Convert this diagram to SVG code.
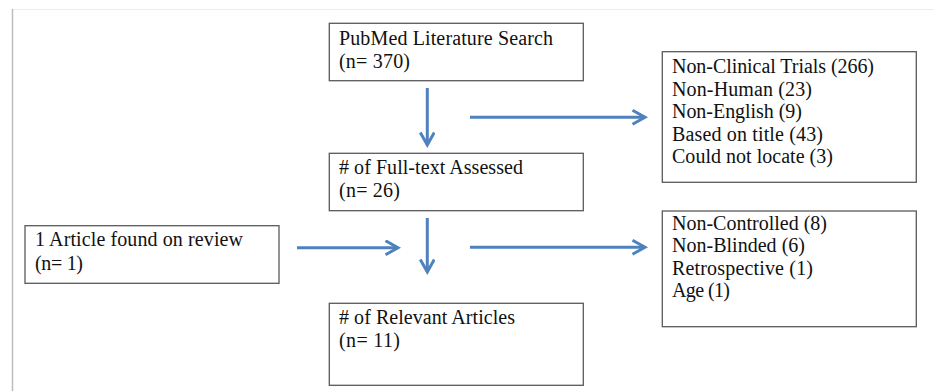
<svg xmlns="http://www.w3.org/2000/svg" width="934" height="391" viewBox="0 0 934 391">
<style>
.box{fill:#fff;stroke:#5a5a5a;stroke-width:1.3}
.t{font-family:"Liberation Serif","Times New Roman",serif;font-size:20px;fill:#111}
.arr{fill:none;stroke:#4f81bd;stroke-width:3;marker-end:url(#ah)}
</style>
<defs>
<marker id="ah" markerUnits="userSpaceOnUse" markerWidth="20" markerHeight="20" refX="14" refY="8" orient="auto">
<path d="M1.5,1 L14,8 L1.5,15" fill="none" stroke="#4f81bd" stroke-width="3"/>
</marker>
</defs>
<rect width="934" height="391" fill="#fff"/>
<line x1="12" y1="9.5" x2="934" y2="9.5" stroke="#ececec" stroke-width="1"/>
<line x1="12.5" y1="9" x2="12.5" y2="391" stroke="#bdbdbd" stroke-width="1.5"/>
<g id="pubmed">
<rect class="box" x="329.3" y="23.3" width="254" height="57.4"/>
<text class="t" x="339" y="44.5" textLength="214">PubMed Literature Search</text>
<text class="t" x="339" y="68" textLength="71">(n= 370)</text>
</g>
<g id="fulltext">
<rect class="box" x="329.3" y="153.3" width="254" height="57.4"/>
<text class="t" x="339" y="173.5" textLength="184"># of Full-text Assessed</text>
<text class="t" x="339" y="196.7" textLength="61">(n= 26)</text>
</g>
<g id="relevant">
<rect class="box" x="329.3" y="303.3" width="254" height="82"/>
<text class="t" x="339" y="323.5" textLength="176"># of Relevant Articles</text>
<text class="t" x="339" y="346.7" textLength="61">(n= 11)</text>
</g>
<g id="review">
<rect class="box" x="25" y="225.7" width="254" height="57.6"/>
<text class="t" x="35" y="246" textLength="208">1 Article found on review</text>
<text class="t" x="35" y="270" textLength="48">(n= 1)</text>
</g>
<g id="excluded1">
<rect class="box" x="662.3" y="51.7" width="254" height="130.6"/>
<text class="t" x="672" y="73.3" textLength="202">Non-Clinical Trials (266)</text>
<text class="t" x="672" y="95.5" textLength="140">Non-Human (23)</text>
<text class="t" x="672" y="117.5" textLength="130">Non-English (9)</text>
<text class="t" x="672" y="140.5" textLength="151">Based on title (43)</text>
<text class="t" x="672" y="163.3" textLength="161">Could not locate (3)</text>
</g>
<g id="excluded2">
<rect class="box" x="662.3" y="211" width="254" height="115.7"/>
<text class="t" x="672" y="229.5" textLength="155">Non-Controlled (8)</text>
<text class="t" x="672" y="252" textLength="133">Non-Blinded (6)</text>
<text class="t" x="672" y="275" textLength="141">Retrospective (1)</text>
<text class="t" x="672" y="297" textLength="58">Age (1)</text>
</g>
<g id="connectors">
<line class="arr" x1="427.3" y1="88" x2="427.3" y2="145"/>
<line class="arr" x1="470" y1="117.3" x2="645" y2="117.3"/>
<line class="arr" x1="427.3" y1="218" x2="427.3" y2="272"/>
<line class="arr" x1="470" y1="247.3" x2="645" y2="247.3"/>
<line class="arr" x1="297" y1="247.7" x2="398" y2="247.7"/>
</g>
</svg>
